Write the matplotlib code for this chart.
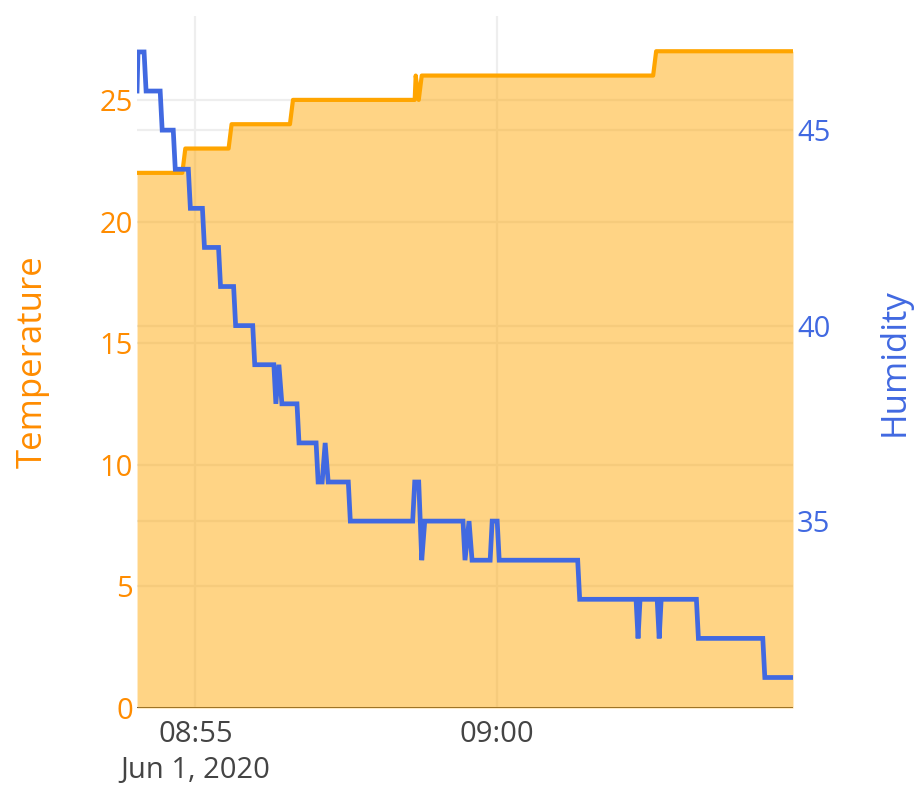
import matplotlib
matplotlib.use("Agg")
import matplotlib.pyplot as plt
import matplotlib.transforms as mtransforms
import pandas as pd

plt.rcParams['font.family'] = ['Open Sans', 'DejaVu Sans']

DAY = "2020-06-01 "

# Temperature readings (time, value)
temp_times = ["08:54:02", "08:54:47", "08:54:50", "08:55:33", "08:55:36", "08:56:34",
              "08:56:37", "08:58:38", "08:58:39", "08:58:42", "08:58:45", "09:02:35",
              "09:02:38", "09:04:54"]
temp_values = [22, 22, 23, 23, 24, 24, 25, 25, 26, 25, 26, 26, 27, 27]

# Humidity readings (time, value)
hum_times = ["08:54:02", "08:54:03", "08:54:09", "08:54:11", "08:54:25", "08:54:27",
             "08:54:38", "08:54:40", "08:54:53", "08:54:55", "08:55:07", "08:55:09",
             "08:55:23", "08:55:25", "08:55:38", "08:55:40", "08:55:57", "08:55:59",
             "08:56:18", "08:56:20", "08:56:23", "08:56:26", "08:56:41", "08:56:43",
             "08:57:00", "08:57:02", "08:57:06", "08:57:09", "08:57:12", "08:57:32",
             "08:57:34", "08:58:36", "08:58:38", "08:58:42", "08:58:45", "08:58:48",
             "08:59:26", "08:59:28", "08:59:32", "08:59:35", "08:59:53", "08:59:55",
             "09:00:00", "09:00:02", "09:01:20", "09:01:22", "09:02:18", "09:02:20",
             "09:02:22", "09:02:39", "09:02:41", "09:02:43", "09:03:18", "09:03:20",
             "09:04:24", "09:04:26", "09:04:54"]
hum_values = [46, 47, 47, 46, 46, 45,
              45, 44, 44, 43, 43, 42,
              42, 41, 41, 40, 40, 39,
              39, 38, 39, 38, 38, 37,
              37, 36, 36, 37, 36, 36,
              35, 35, 36, 36, 34, 35,
              35, 34, 35, 34, 34, 35,
              35, 34, 34, 33, 33, 32,
              33, 33, 32, 33, 33, 32,
              32, 31, 31]

temp_ticks = [0, 5, 10, 15, 20, 25]
hum_ticks = [35, 40, 45]
x_ticks = ["08:55", "09:00"]
date_label = "Jun 1, 2020"

ORANGE = "#ffa500"
ORANGE_TXT = "#ff8c00"
BLUE = "#4169e1"
GRID = "#eeeeee"

t_temp = pd.to_datetime([DAY + t for t in temp_times])
t_hum = pd.to_datetime([DAY + t for t in hum_times])
t_ticks = pd.to_datetime([DAY + t for t in x_ticks])

fig = plt.figure(figsize=(9.16, 7.87), dpi=100)
ax = fig.add_axes([0.1496, 0.1004, 0.7161, 0.8793])
ax2 = ax.twinx()

ax.set_xlim(t_temp[0], t_temp[-1])
ax.set_ylim(0, 28.45)
ax2.set_ylim(30.22, 47.92)

# grid (under the fill)
ax.set_xticks(t_ticks)
ax.set_xticklabels(x_ticks, color="#444444", fontsize=21)
ax.grid(axis='both', color=GRID, lw=1.6, zorder=0)
ax.set_axisbelow(True)
blend = mtransforms.blended_transform_factory(ax.transAxes, ax2.transData)
for h in hum_ticks:
    ax.plot([0, 1], [h, h], transform=blend, color=GRID, lw=1.6, zorder=0.5)
ax.axhline(0, color="#444444", lw=1.4, zorder=0.8)

# date under the first tick
xblend = mtransforms.blended_transform_factory(ax.transData, ax.transAxes)
ax.text(t_ticks[0], -0.091, date_label, transform=xblend, ha='center', va='center',
        color="#444444", fontsize=21)

# temperature with fill to zero
ax.fill_between(t_temp, temp_values, 0, color=ORANGE, alpha=0.48, lw=0, zorder=1)
ax.plot(t_temp, temp_values, color=ORANGE, lw=3.0, zorder=2)

# humidity
ax2.plot(t_hum, hum_values, color=BLUE, lw=3.4, solid_joinstyle='miter')

ax.set_yticks(temp_ticks)
ax.set_yticklabels([str(v) for v in temp_ticks], color=ORANGE_TXT, fontsize=21)
ax2.set_yticks(hum_ticks)
ax2.set_yticklabels([str(v) for v in hum_ticks], color=BLUE, fontsize=21)

ax.tick_params(axis='y', length=0, pad=3)
ax.tick_params(axis='x', length=0, pad=9)
ax2.tick_params(axis='y', length=0, pad=3)

ax.set_ylabel("Temperature", color=ORANGE_TXT, fontsize=25, labelpad=36)
ax2.set_ylabel("Humidity", color=BLUE, fontsize=25, labelpad=34, rotation=90)

for a in (ax, ax2):
    for s in a.spines.values():
        s.set_visible(False)

fig.savefig("out.png", dpi=100)
